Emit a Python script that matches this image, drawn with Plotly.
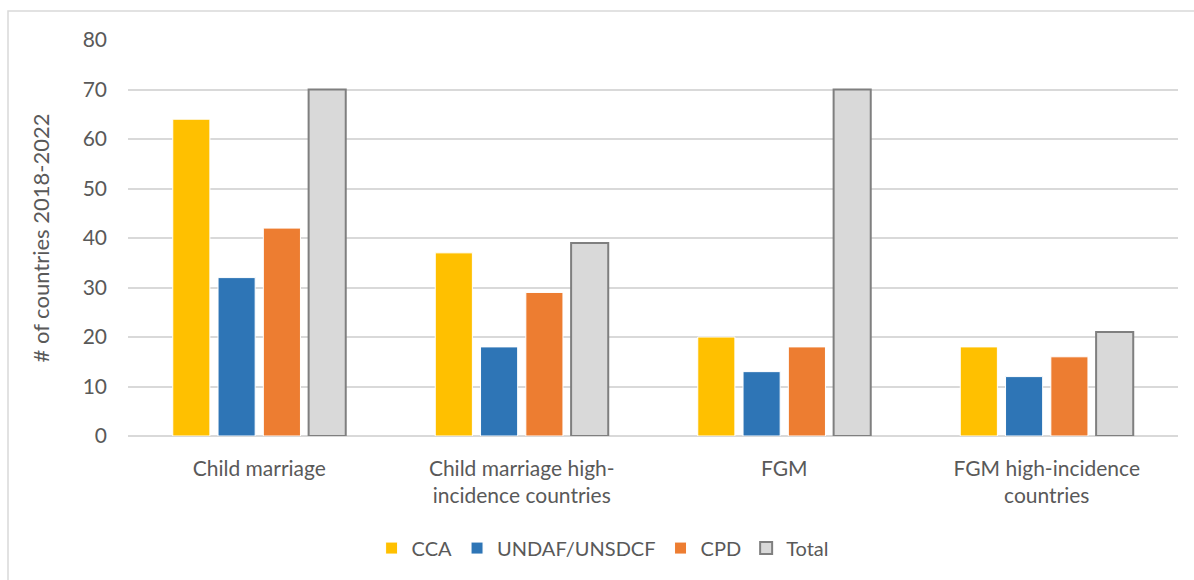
import plotly.graph_objects as go

categories = ["Child marriage", "Child marriage high-<br>incidence countries", "FGM", "FGM high-incidence<br>countries"]
series_names = ["CCA", "UNDAF/UNSDCF", "CPD", "Total"]
cca = [64, 37, 20, 18]
undaf = [32, 18, 13, 12]
cpd = [42, 29, 18, 16]
total = [70, 39, 70, 21]
y_ticks = [0, 10, 20, 30, 40, 50, 60, 70, 80]

colors = ["#FFC000", "#2E75B6", "#ED7D31", "#D9D9D9"]
line_colors = ["#FFFFFF", "#FFFFFF", "#FFFFFF", "#7F7F7F"]
line_widths = [1, 1, 1, 2]

FONT = "Lato, Calibri, Carlito, sans-serif"
TXT = "#595959"

fig = go.Figure()
for name, vals, c, lc, lw in zip(series_names, [cca, undaf, cpd, total], colors, line_colors, line_widths):
    fig.add_trace(go.Bar(x=categories, y=vals, name=name, marker=dict(color=c, line=dict(color=lc, width=lw))))

fig.update_layout(
    width=1194, height=580,
    margin=dict(l=128, r=16, t=40, b=144),
    paper_bgcolor="white", plot_bgcolor="white",
    barmode="group", bargap=0.31, bargroupgap=0.18,
    font=dict(family=FONT, size=21, color=TXT),
    showlegend=True,
    legend=dict(orientation="h", x=0.452, xanchor="center", y=-0.283, yanchor="middle",
                font=dict(size=20, color=TXT), itemwidth=30, traceorder="normal"),
    xaxis=dict(showgrid=False, showline=False, ticks="", automargin=False, ticklabelstandoff=18,
               tickfont=dict(size=21, color=TXT)),
    yaxis=dict(range=[0, 80], tickvals=y_ticks, showgrid=True, gridcolor="#D9D9D9", gridwidth=1.5,
               zeroline=True, zerolinecolor="#D9D9D9", zerolinewidth=1.5, automargin=False,
               ticks="", ticklabelstandoff=20, tickfont=dict(size=21, color=TXT),
               title=dict(text="# of countries 2018-2022", font=dict(size=22, color=TXT), standoff=26)),
    shapes=[dict(type="rect", xref="paper", yref="paper",
                 x0=-120/1050, x1=1.1, y0=-0.5, y1=1 + 29/396,
                 line=dict(color="#D9D9D9", width=1.5), fillcolor="rgba(0,0,0,0)", layer="below")],
)

fig.write_html("out.html")
